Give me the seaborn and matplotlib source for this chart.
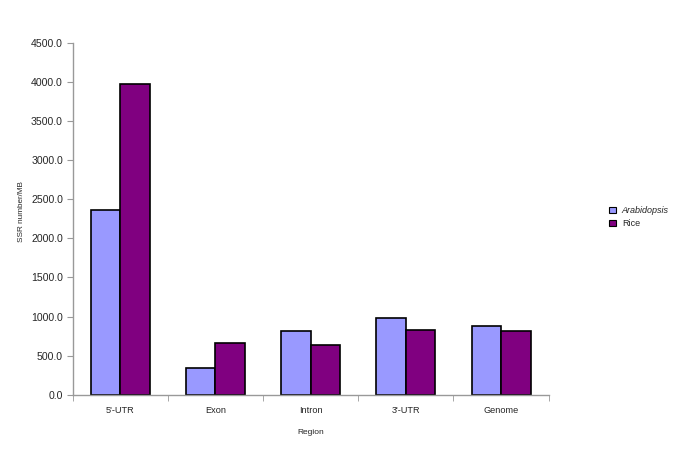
import pandas as pd
import numpy as np
import matplotlib
matplotlib.use('Agg')
import matplotlib.pyplot as plt
import seaborn as sns
from matplotlib.ticker import FixedLocator

regions = ["5'-UTR", 'Exon', 'Intron', "3'-UTR", 'Genome']
arabidopsis = [2364, 336, 818, 984, 874]
rice = [3978, 664, 638, 830, 810]
species = ['Arabidopsis', 'Rice']

df = pd.DataFrame({
    'Region': regions * 2,
    'Value': arabidopsis + rice,
    'Species': [species[0]] * 5 + [species[1]] * 5,
})

sns.set_style('white')
plt.rcParams['font.family'] = ['Liberation Sans', 'DejaVu Sans']

fig = plt.figure(figsize=(6.85, 4.49), dpi=100)
ax = fig.add_axes([0.106, 0.121, 0.695, 0.783])

sns.barplot(data=df, x='Region', y='Value', hue='Species', order=regions,
            palette=['#9999FF', '#800080'], width=0.62, edgecolor='black',
            linewidth=1.2, saturation=1, ax=ax)

ax.set_xlim(-0.5, 4.5)
ax.set_ylim(0, 4500)
ax.set_yticks(np.arange(0, 4501, 500))
ax.set_yticklabels([f'{v:.1f}' for v in np.arange(0, 4501, 500)], fontsize=7.6)
ax.tick_params(axis='y', length=4, color='#999999', direction='out', pad=3, left=True)
ax.tick_params(axis='x', which='major', length=0, labelsize=6.6, pad=8)
ax.xaxis.set_minor_locator(FixedLocator(np.arange(-0.5, 4.6, 1)))
ax.tick_params(axis='x', which='minor', length=4, color='#999999', direction='out', bottom=True)

for s in ['top', 'right']:
    ax.spines[s].set_visible(False)
for s in ['left', 'bottom']:
    ax.spines[s].set_color('#999999')
    ax.spines[s].set_linewidth(1)

ax.set_xlabel('Region', fontsize=6, labelpad=10)
ax.set_ylabel('SSR number/MB', fontsize=5.9)
ax.yaxis.set_label_coords(-0.100, 0.52)

leg = ax.legend(loc='center left', bbox_to_anchor=(1.11, 0.505), frameon=False,
                fontsize=6.5, handlelength=0.8, handleheight=0.8, handletextpad=0.6,
                labelspacing=0.45)
leg.get_texts()[0].set_style('italic')
for h in leg.legend_handles:
    h.set_linewidth(0.8)

fig.savefig('out.png', dpi=100)
